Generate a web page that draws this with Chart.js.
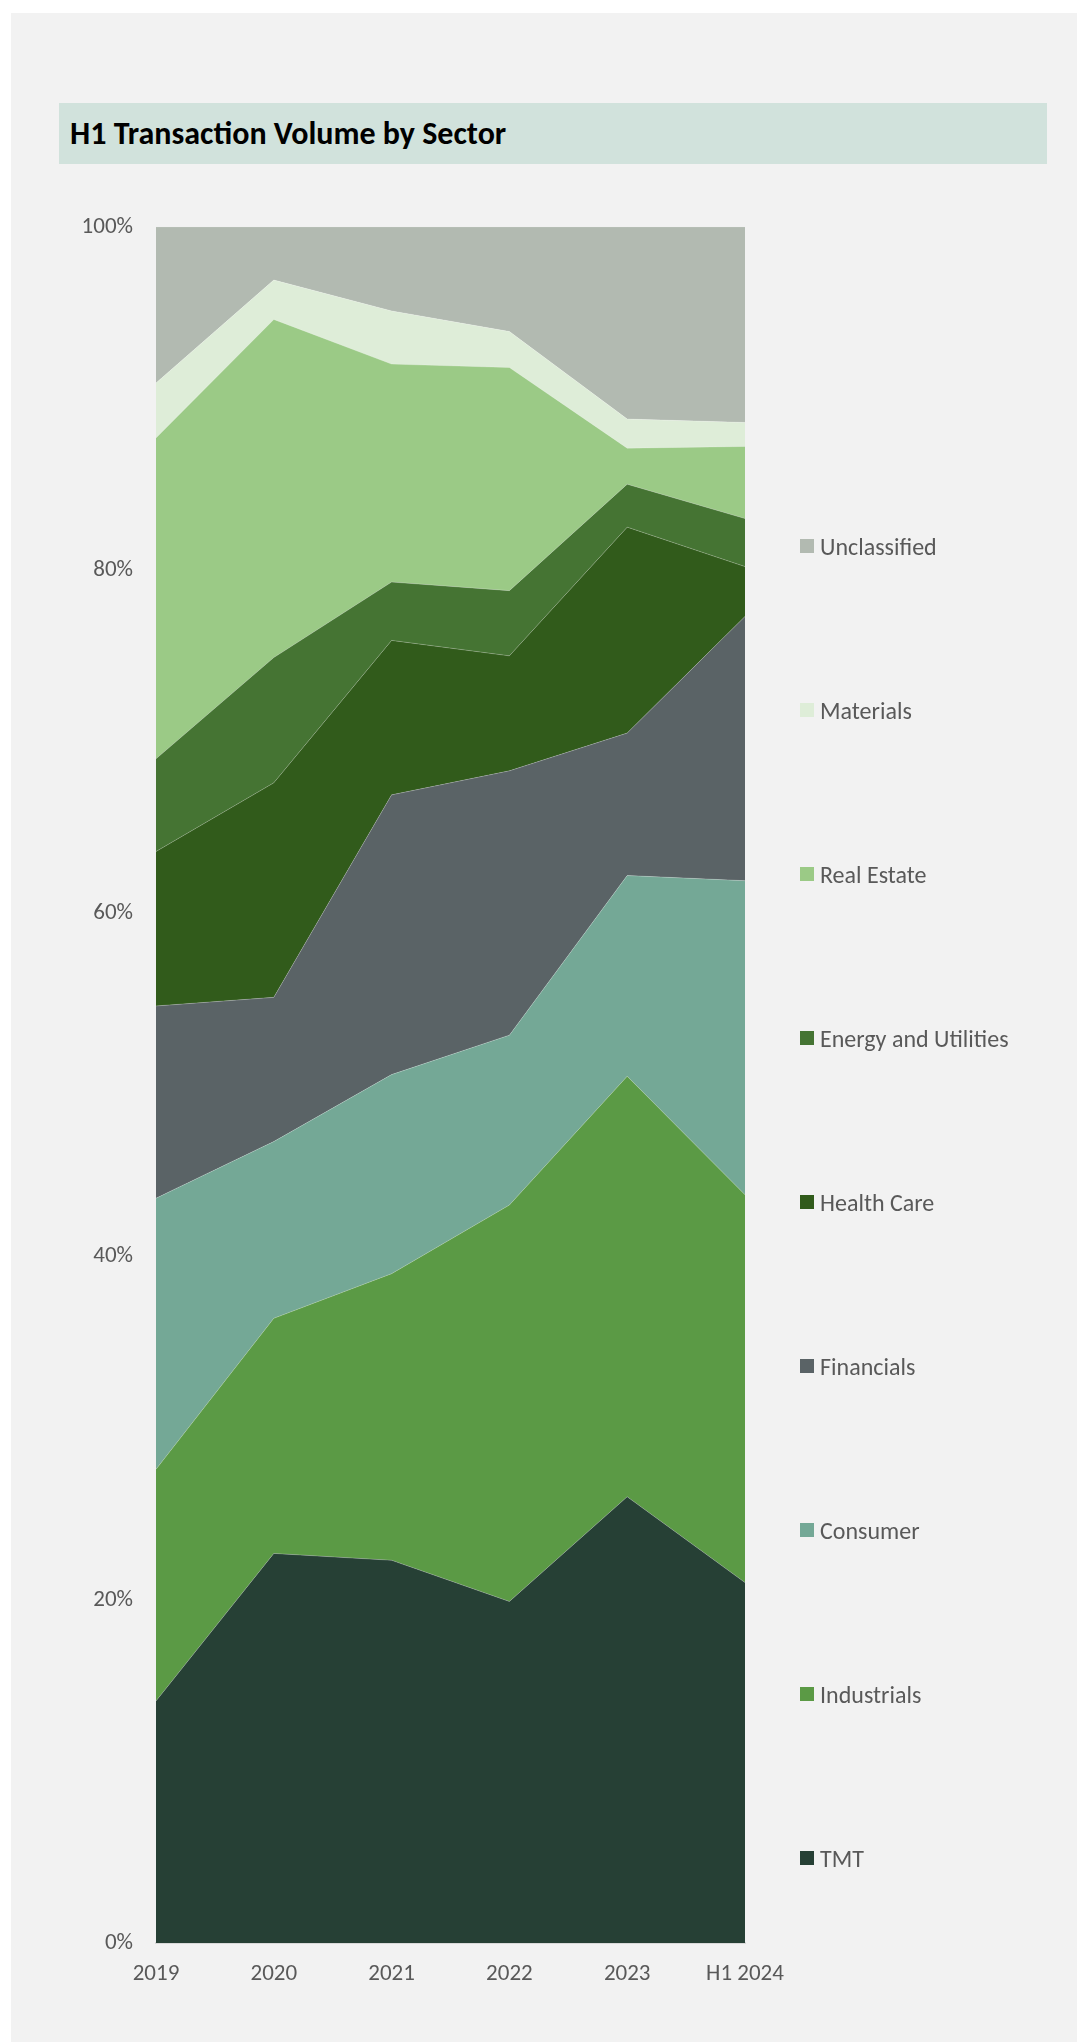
<!DOCTYPE html>
<html>
<head>
<meta charset="utf-8">
<title>H1 Transaction Volume by Sector</title>
<script src="https://cdn.jsdelivr.net/npm/chart.js@4.4.1/dist/chart.umd.min.js"></script>
<style>
    html, body {
        margin: 0;
        padding: 0;
        background: #ffffff;
    }
    body {
        position: relative;
        width: 1077px;
        height: 2042px;
        overflow: hidden;
        font-family: Carlito, Lato, 'Liberation Sans', sans-serif;
    }
    .panel {
        position: absolute;
        left: 11px;
        top: 13px;
        right: 0;
        bottom: 0;
        background: #f2f2f2;
    }
    .title-band {
        position: absolute;
        left: 59px;
        top: 103px;
        width: 988px;
        height: 61px;
        background: #d1e2dc;
    }
    .title-band h1 {
        position: absolute;
        left: 11px;
        top: 0;
        margin: 0;
        line-height: 61px;
        font-size: 32px;
        font-weight: 700;
        color: #000000;
    }
    .chart-box {
        position: absolute;
        left: 11px;
        top: 190px;
        width: 800px;
        height: 1803px;
    }
    #legend {
        position: absolute;
        left: 800px;
        top: 464px;
        margin: 0;
        padding: 0;
        list-style: none;
    }
    #legend li {
        display: flex;
        align-items: center;
        height: 164px;
        font-size: 24px;
        color: #595959;
        white-space: nowrap;
    }
    #legend .swatch {
        width: 14px;
        height: 14px;
        margin-right: 6px;
        flex: none;
    }
</style>
</head>
<body>
<div class="panel"></div>
<div class="title-band"><h1>H1 Transaction Volume by Sector</h1></div>
<div class="chart-box"><canvas id="sectorChart"></canvas></div>
<ul id="legend"></ul>

<script>
// Categories (x axis)
const YEARS = ['2019', '2020', '2021', '2022', '2023', 'H1 2024'];

// Share of transaction volume, %
const TMT          = [14.1, 22.7, 22.3, 19.9, 26.0, 21.0];
const INDUSTRIALS  = [13.5, 13.7, 16.7, 23.1, 24.5, 22.6];
const CONSUMER     = [15.8, 10.3, 11.6,  9.9, 11.7, 18.3];
const FINANCIALS   = [11.2,  8.4, 16.3, 15.4,  8.3, 15.4];
const HEALTH_CARE  = [ 9.0, 12.5,  9.0,  6.7, 12.0,  2.9];
const ENERGY       = [ 5.4,  7.3,  3.4,  3.8,  2.5,  2.8];
const REAL_ESTATE  = [18.7, 19.7, 12.7, 13.0,  2.1,  4.2];
const MATERIALS    = [ 3.2,  2.3,  3.1,  2.1,  1.7,  1.4];
const UNCLASSIFIED = [ 9.1,  3.1,  4.9,  6.1, 11.2, 11.4];

// Stack order, bottom to top
const SECTOR_NAMES = ['TMT', 'Industrials', 'Consumer', 'Financials', 'Health Care',
    'Energy and Utilities', 'Real Estate', 'Materials', 'Unclassified'];
const SECTOR_VALUES = [TMT, INDUSTRIALS, CONSUMER, FINANCIALS, HEALTH_CARE,
    ENERGY, REAL_ESTATE, MATERIALS, UNCLASSIFIED];

// Y axis ticks
const Y_MAX = 100;
const Y_STEP = 20;

/**
 * Styles
 */
const SECTOR_COLORS = {
    'TMT': '#264035',
    'Industrials': '#5b9a45',
    'Consumer': '#74a896',
    'Financials': '#5a6366',
    'Health Care': '#315b1b',
    'Energy and Utilities': '#457433',
    'Real Estate': '#9bca86',
    'Materials': '#deedd8',
    'Unclassified': '#b2bab1'
};
const TEXT_COLOR = '#595959';
const FONT_FAMILY = "Carlito, Lato, 'Liberation Sans', sans-serif";

document.addEventListener('DOMContentLoaded', function() {
    const chart = initSectorChart();
    if (chart) buildLegend(chart);
});

/**
 * Stacked area chart
 */
function initSectorChart() {
    const ctx = document.getElementById('sectorChart');
    if (!ctx || typeof Chart === 'undefined') return null;

    const datasets = SECTOR_NAMES.map(function(name, i) {
        return {
            label: name,
            data: SECTOR_VALUES[i],
            backgroundColor: SECTOR_COLORS[name],
            borderColor: 'rgba(255, 255, 255, 0.22)',
            borderWidth: 1,
            pointRadius: 0,
            pointHoverRadius: 0,
            tension: 0,
            fill: i === 0 ? 'origin' : '-1'
        };
    });

    return new Chart(ctx, {
        type: 'line',
        data: {
            labels: YEARS,
            datasets: datasets
        },
        options: {
            responsive: true,
            maintainAspectRatio: false,
            animation: false,
            layout: {
                padding: { top: 35.5, right: 66, bottom: 0, left: 0 }
            },
            plugins: {
                legend: { display: false },
                tooltip: { enabled: false }
            },
            scales: {
                x: {
                    grid: { display: false, drawTicks: false },
                    border: { display: true, color: '#d9d9d9', width: 2 },
                    ticks: {
                        color: TEXT_COLOR,
                        font: { family: FONT_FAMILY, size: 23 },
                        padding: 17,
                        maxRotation: 0,
                        autoSkip: false
                    },
                    afterFit: function(scale) { scale.height = 50; }
                },
                y: {
                    stacked: true,
                    min: 0,
                    max: Y_MAX,
                    grid: { display: false, drawTicks: false },
                    border: { display: false },
                    ticks: {
                        stepSize: Y_STEP,
                        padding: 23,
                        color: TEXT_COLOR,
                        font: { family: FONT_FAMILY, size: 23 },
                        callback: function(v) { return v + '%'; }
                    },
                    afterFit: function(scale) { scale.width = 145; }
                }
            }
        }
    });
}

/**
 * HTML legend, top of the stack first
 */
function buildLegend(chart) {
    const list = document.getElementById('legend');
    const items = Chart.defaults.plugins.legend.labels.generateLabels(chart).reverse();

    items.forEach(function(item) {
        const li = document.createElement('li');
        const swatch = document.createElement('span');
        swatch.className = 'swatch';
        swatch.style.background = item.fillStyle;
        li.appendChild(swatch);
        li.appendChild(document.createTextNode(item.text));
        list.appendChild(li);
    });
}
</script>
</body>
</html>
